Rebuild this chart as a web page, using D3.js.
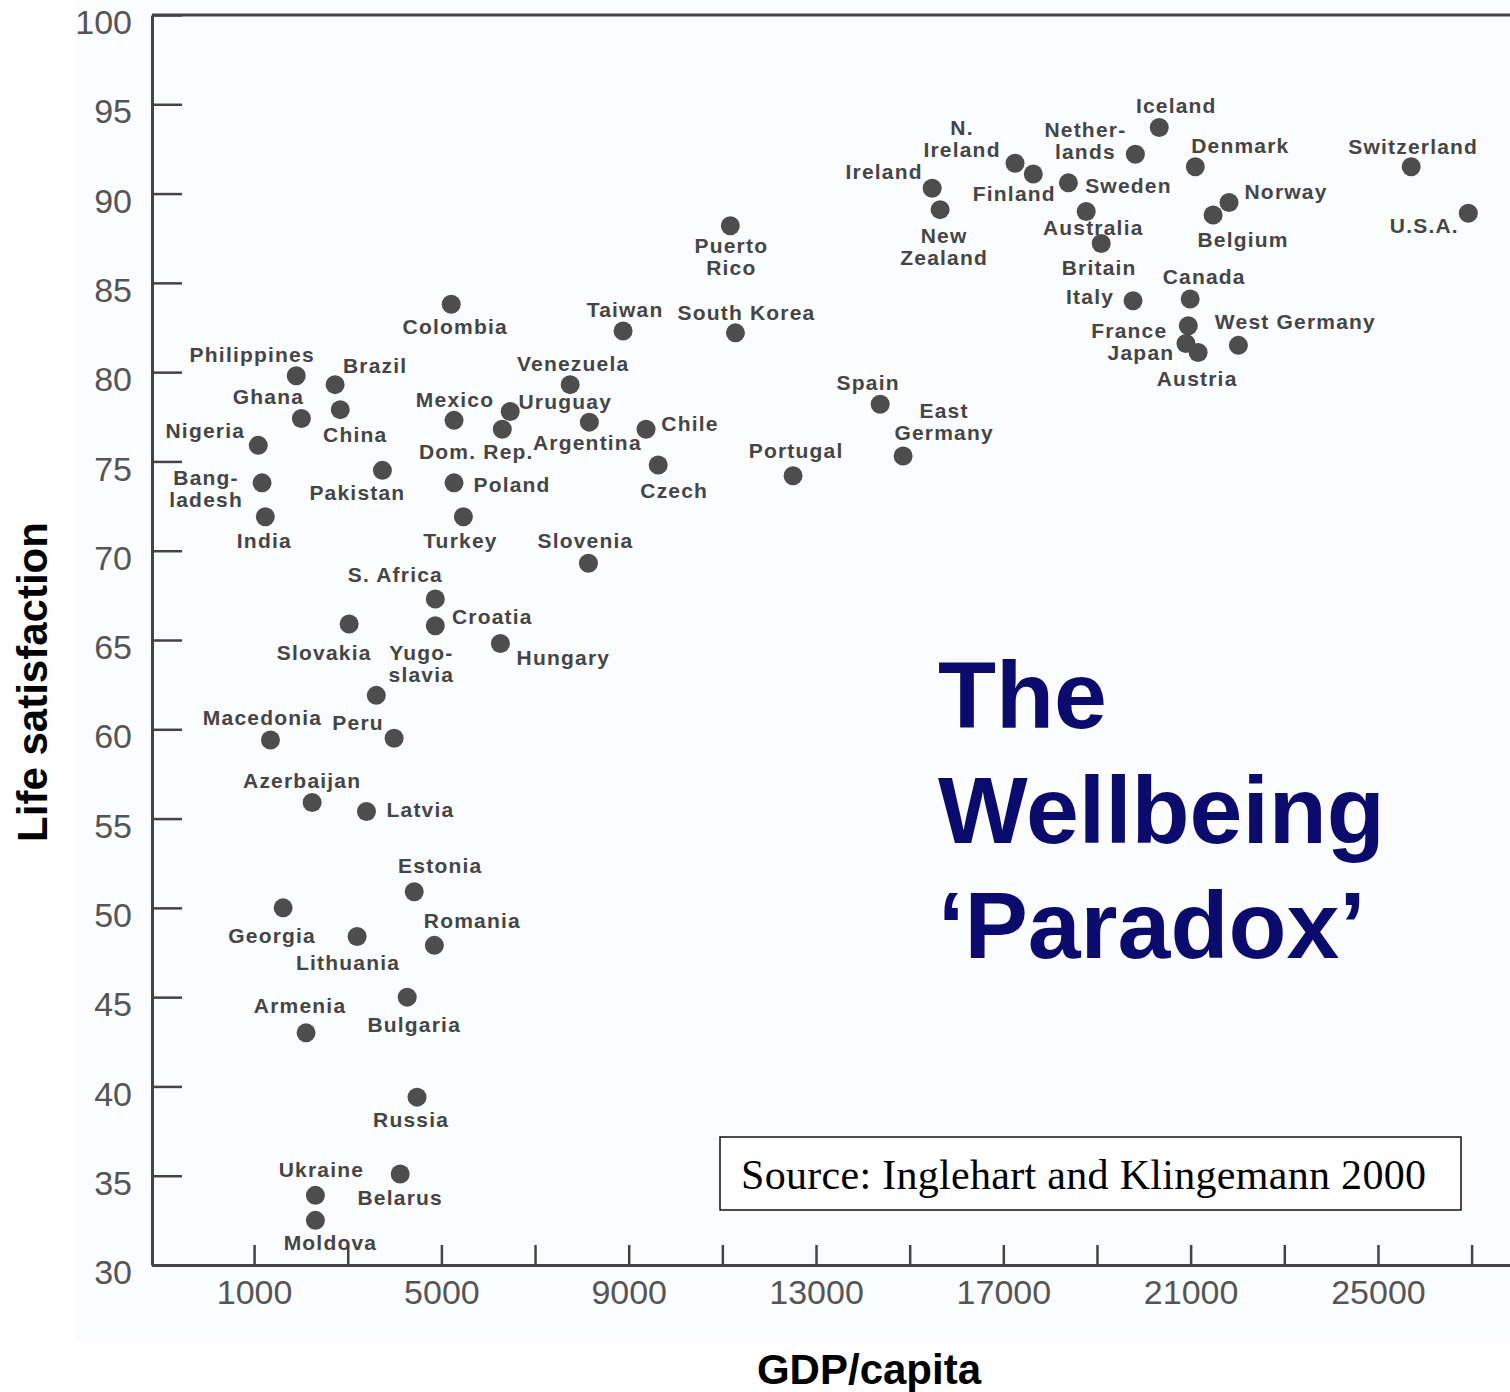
<!DOCTYPE html>
<html>
<head>
<meta charset="utf-8">
<script src="https://cdn.jsdelivr.net/npm/d3@7"></script>
<style>
  body { margin: 0; background: #fff; }
  svg text { font-family: "Liberation Sans", Arial, Helvetica, sans-serif; }
</style>
</head>
<body>
<div id="chart"></div>
<script>
// Country names ("\n" = line break in the label)
var countries = ["Philippines", "Brazil", "Ghana", "China", "Nigeria", "Bang-\nladesh", "India", "Pakistan",
  "Colombia", "Mexico", "Uruguay", "Dom. Rep.", "Argentina", "Venezuela", "Taiwan", "South Korea",
  "Puerto\nRico", "Chile", "Czech", "Poland", "Turkey", "Slovenia", "S. Africa", "Croatia", "Slovakia",
  "Hungary", "Yugo-\nslavia", "Macedonia", "Peru", "Azerbaijan", "Latvia", "Estonia", "Georgia",
  "Lithuania", "Romania", "Armenia", "Bulgaria", "Russia", "Ukraine", "Belarus", "Moldova", "Spain",
  "East\nGermany", "Portugal", "Ireland", "New\nZealand", "N.\nIreland", "Finland", "Nether-\nlands",
  "Iceland", "Sweden", "Australia", "Britain", "Denmark", "Norway", "Belgium", "Switzerland", "U.S.A.",
  "Canada", "Italy", "France", "Japan", "Austria", "West Germany"];

// GDP per capita
var gdp = [1900, 2730, 2010, 2840, 1090, 1170, 1240, 3740,
  5210, 5270, 6470, 6300, 8160, 7750, 8880, 11280,
  11170, 9370, 9630, 5270, 5470, 8140, 4870, 4870, 3030,
  6260, 3610, 1350, 3990, 2240, 3400, 4420, 1620,
  3200, 4850, 2110, 4270, 4480, 2310, 4120, 2310, 14370,
  14860, 12510, 15480, 15650, 17250, 17640, 19820,
  20330, 18390, 18770, 19090, 21100, 21820, 21480, 25710, 26930,
  20990, 19770, 20950, 20900, 21160, 22020];

// Life satisfaction
var life = [79.8, 79.3, 77.4, 77.9, 75.9, 73.8, 71.9, 74.5,
  83.8, 77.3, 77.8, 76.8, 77.2, 79.3, 82.3, 82.2,
  88.2, 76.8, 74.8, 73.8, 71.9, 69.3, 67.3, 65.8, 65.9,
  64.8, 61.9, 59.4, 59.5, 55.9, 55.4, 50.9, 50.0,
  48.4, 47.9, 43.0, 45.0, 39.4, 33.9, 35.1, 32.5, 78.2,
  75.3, 74.2, 90.3, 89.1, 91.7, 91.1, 92.2,
  93.7, 90.6, 89.0, 87.2, 91.5, 89.5, 88.8, 91.5, 88.9,
  84.1, 84.0, 82.6, 81.6, 81.1, 81.5];

// label offsets from each dot (px)
var labelDx = [-44, 40, -33, 15, -53, -56, -1, -25,
  4, 1, 55, -26, -2, 3, 2, 11,
  1, 44, 16, 58, -3, -3, -40, 57, -25,
  63, 45, -8, -36, -10, 54, 26, -11,
  -9, 38, -6, 7, -6, 6, 0, 15, -12,
  41, 3, -48, 4, -53, -19, -50,
  17, 60, 7, -2, 45, 57, 30, 2, -44,
  14, -43, -59, -45, -1, 57];
var labelDy = [-21, -19, -22, 25, -15, 6, 24, 22,
  22, -21, -10, 22, 20, -21, -22, -20,
  31, -6, 25, 2, 24, -23, -24, -9, 29,
  14, -32, -23, -16, -22, -2, -26, 28,
  26, -25, -27, 27, 22, -26, 24, 22, -22,
  -35, -25, -17, 37, -25, 20, -14,
  -22, 3, 16, 24, -21, -11, 24, -20, 12,
  -22, -4, 5, 9, 26, -24];

// axis ticks
var xTicks = [1000, 3000, 5000, 7000, 9000, 11000, 13000, 15000, 17000, 19000, 21000, 23000, 25000, 27000];
var xLabels = [1000, 5000, 9000, 13000, 17000, 21000, 25000];
var yTicks = [30, 35, 40, 45, 50, 55, 60, 65, 70, 75, 80, 85, 90, 95, 100];

var titleLines = ["The", "Wellbeing", "\u2018Paradox\u2019"];
var sourceText = "Source: Inglehart and Klingemann 2000";

var width = 1510;
var height = 1392;

var svg = d3.select("#chart").append("svg")
  .attr("width", width)
  .attr("height", height);

// faint scan-paper background
svg.append("rect")
  .attr("x", 75).attr("y", 0)
  .attr("width", 1435).attr("height", 1340)
  .attr("fill", "#fbfcfd");

var x = d3.scaleLinear()
  .domain([-1180, 27820])
  .range([152, 1510]);

var y = d3.scaleLinear()
  .domain([30, 100])
  .range([1265, 15]);

// axes
var gx = svg.append("g")
  .attr("transform", "translate(0," + y(30) + ")")
  .call(d3.axisBottom(x)
    .tickValues(xTicks)
    .tickSize(-20)
    .tickSizeOuter(0)
    .tickPadding(15)
    .tickFormat(function(d) { return xLabels.indexOf(d) >= 0 ? d : ""; }));

var gy = svg.append("g")
  .attr("transform", "translate(" + x.range()[0] + ",0)")
  .call(d3.axisLeft(y)
    .tickValues(yTicks)
    .tickSize(-30)
    .tickSizeOuter(0)
    .tickPadding(20));

// the scanned labels sit a little below their ticks
gy.selectAll(".tick text").attr("dy", "0.55em");

[gx, gy].forEach(function(g) {
  g.select(".domain").attr("stroke", "#444").attr("stroke-width", 3);
  g.selectAll(".tick line").attr("stroke", "#444").attr("stroke-width", 2.5);
  g.selectAll(".tick text")
    .attr("fill", "#555")
    .style("font-size", "34px");
});

// top border
svg.append("line")
  .attr("x1", x.range()[0]).attr("x2", x.range()[1])
  .attr("y1", y(100)).attr("y2", y(100))
  .attr("stroke", "#444")
  .attr("stroke-width", 3);

var rows = countries.map(function(c, i) {
  return { name: c, gdp: gdp[i], life: life[i], dx: labelDx[i], dy: labelDy[i] };
});

// dots
svg.append("g").selectAll("circle")
  .data(rows)
  .enter()
  .append("circle")
    .attr("cx", function(d) { return x(d.gdp); })
    .attr("cy", function(d) { return y(d.life); })
    .attr("r", 9.5)
    .attr("fill", "#4d4d4d");

// country labels
var lh = 22;
var labels = svg.append("g").selectAll("text")
  .data(rows)
  .enter()
  .append("text")
    .attr("text-anchor", "middle")
    .attr("fill", "#454545")
    .style("font-size", "21px")
    .style("font-weight", "bold")
    .style("letter-spacing", "1.2px")
    .attr("transform", function(d) {
      return "translate(" + (x(d.gdp) + d.dx) + "," + (y(d.life) + d.dy) + ")";
    });

labels.each(function(d) {
  var lines = d.name.split("\n");
  var t = d3.select(this);
  lines.forEach(function(line, i) {
    t.append("tspan")
      .attr("x", 0)
      .attr("y", (i - (lines.length - 1) / 2) * lh)
      .attr("dy", "0.36em")
      .text(line);
  });
});

// axis titles
svg.append("text")
  .attr("transform", "translate(47,682) rotate(-90)")
  .attr("text-anchor", "middle")
  .attr("fill", "#000")
  .style("font-size", "42px")
  .style("font-weight", "bold")
  .text("Life satisfaction");

svg.append("text")
  .attr("x", 869)
  .attr("y", 1384)
  .attr("text-anchor", "middle")
  .attr("fill", "#000")
  .style("font-size", "42px")
  .style("font-weight", "bold")
  .text("GDP/capita");

// big title
svg.append("g").selectAll("text")
  .data(titleLines)
  .enter()
  .append("text")
    .attr("x", 938)
    .attr("y", function(d, i) { return 728 + i * 115; })
    .attr("fill", "#0b0b6e")
    .style("font-size", "95px")
    .style("font-weight", "bold")
    .text(function(d) { return d; });

// source box
svg.append("rect")
  .attr("x", 720).attr("y", 1137)
  .attr("width", 741).attr("height", 73)
  .attr("fill", "#fff")
  .attr("stroke", "#111")
  .attr("stroke-width", 1.5);

svg.append("text")
  .attr("x", 741)
  .attr("y", 1189)
  .attr("fill", "#000")
  .attr("textLength", 685)
  .attr("lengthAdjust", "spacing")
  .style("font-family", "'Liberation Serif', 'Times New Roman', serif")
  .style("font-size", "42px")
  .text(sourceText);
</script>
</body>
</html>
